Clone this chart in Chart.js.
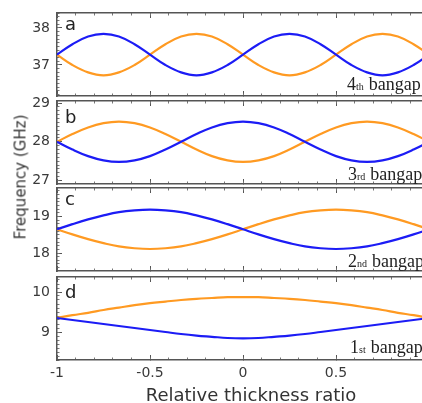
<!DOCTYPE html>
<html>
<head>
<meta charset="utf-8">
<script src="https://cdn.jsdelivr.net/npm/chart.js@4.4.0/dist/chart.umd.min.js"></script>
<style>
  html, body { margin: 0; padding: 0; background: #fff; width: 422px; height: 403px; overflow: hidden; }
  canvas { position: absolute; left: 0; }
  .tag { position: absolute; font: 18px 'DejaVu Sans', sans-serif; color: #222; line-height: 1; }
  .gap { position: absolute; font: 18px 'Liberation Serif', serif; color: #222; line-height: 1; white-space: nowrap; }
  .gap span { font-size: 10px; margin-right: 5px; }
  .title { position: absolute; font-family: 'DejaVu Sans', sans-serif; color: #333; line-height: 1; white-space: nowrap; }
</style>
</head>
<body>
<canvas id="pa" width="434" height="95" style="top:7px"></canvas>
<canvas id="pb" width="434" height="95" style="top:95px"></canvas>
<canvas id="pc" width="434" height="95" style="top:182px"></canvas>
<canvas id="pd" width="434" height="114" style="top:271px"></canvas>

<div class="tag" style="left:65px;top:15px">a</div>
<div class="tag" style="left:65px;top:108px">b</div>
<div class="tag" style="left:65px;top:190px">c</div>
<div class="tag" style="left:65px;top:283px">d</div>

<div class="gap" style="left:347px;top:75px">4<span>th</span>bangap</div>
<div class="gap" style="left:348px;top:165px">3<span>rd</span>bangap</div>
<div class="gap" style="left:348px;top:252px">2<span>nd</span>bangap</div>
<div class="gap" style="left:350px;top:338px">1<span>st</span>bangap</div>

<div class="title" style="left:21px;top:177px;font-size:15px;transform:translate(-50%,-50%) rotate(-90deg)">Frequency (GHz)</div>
<div class="title" style="left:251px;top:395px;font-size:18px;transform:translate(-50%,-50%)">Relative thickness ratio</div>

<script>
// relative thickness ratio (x) shared by all four panels
const thickness = [-1, -0.917, -0.833, -0.75, -0.667, -0.583, -0.5, -0.417, -0.333, -0.25, -0.167, -0.083,
  0, 0.083, 0.167, 0.25, 0.333, 0.417, 0.5, 0.583, 0.667, 0.75, 0.833, 0.917, 1];

// band edges in GHz
const gap4Blue = [37.28, 37.56, 37.77, 37.84, 37.77, 37.56, 37.28, 37.00, 36.80, 36.72, 36.80, 37.00,
  37.28, 37.56, 37.77, 37.84, 37.77, 37.56, 37.28, 37.00, 36.80, 36.72, 36.80, 37.00, 37.28];
const gap4Orange = [37.28, 37.00, 36.80, 36.72, 36.80, 37.00, 37.28, 37.56, 37.77, 37.84, 37.77, 37.56,
  37.28, 37.00, 36.80, 36.72, 36.80, 37.00, 37.28, 37.56, 37.77, 37.84, 37.77, 37.56, 37.28];
const gap3Blue = [28.00, 27.80, 27.63, 27.52, 27.48, 27.52, 27.63, 27.80, 28.00, 28.20, 28.37, 28.48,
  28.52, 28.48, 28.37, 28.20, 28.00, 27.80, 27.63, 27.52, 27.48, 27.52, 27.63, 27.80, 28.00];
const gap3Orange = [28.00, 28.20, 28.37, 28.48, 28.52, 28.48, 28.37, 28.20, 28.00, 27.80, 27.63, 27.52,
  27.48, 27.52, 27.63, 27.80, 28.00, 28.20, 28.37, 28.48, 28.52, 28.48, 28.37, 28.20, 28.00];
const gap2Blue = [18.65, 18.79, 18.92, 19.03, 19.12, 19.17, 19.19, 19.17, 19.12, 19.03, 18.92, 18.79,
  18.65, 18.51, 18.38, 18.27, 18.18, 18.13, 18.11, 18.13, 18.18, 18.27, 18.38, 18.51, 18.65];
const gap2Orange = [18.65, 18.51, 18.38, 18.27, 18.18, 18.13, 18.11, 18.13, 18.18, 18.27, 18.38, 18.51,
  18.65, 18.79, 18.92, 19.03, 19.12, 19.17, 19.19, 19.17, 19.12, 19.03, 18.92, 18.79, 18.65];
const gap1Blue = [9.35, 9.30, 9.25, 9.20, 9.15, 9.10, 9.05, 9.00, 8.95, 8.91, 8.88, 8.85,
  8.84, 8.85, 8.88, 8.91, 8.95, 9.00, 9.05, 9.10, 9.15, 9.20, 9.25, 9.30, 9.35];
const gap1Orange = [9.35, 9.42, 9.48, 9.55, 9.61, 9.67, 9.72, 9.76, 9.80, 9.83, 9.85, 9.87,
  9.87, 9.87, 9.85, 9.83, 9.80, 9.76, 9.72, 9.67, 9.61, 9.55, 9.48, 9.42, 9.35];

// y axis ranges per panel (top to bottom)
const yMins = [36.162, 26.910, 17.507, 8.3];
const yMaxs = [38.405, 29.052, 19.781, 10.375];

const frame = '#555';
const textColor = '#3a3a3a';
Chart.defaults.font.family = "'DejaVu Sans', sans-serif";

function fix(size) {
  return s => {
    if (s.isHorizontal()) s.height = size; else s.width = size;
    s.paddingTop = s.paddingBottom = s.paddingLeft = s.paddingRight = 0;
  };
}

function tickAxis(pos, min, max, step, len, major, extra) {
  return Object.assign({
    type: 'linear', position: pos, min: min, max: max, weight: major ? 1 : 0,
    border: { display: major, color: frame, width: 1.5 },
    grid: { drawOnChartArea: false, tickLength: len, tickColor: major ? frame : '#777', tickWidth: 1 },
    ticks: { display: false, stepSize: step, includeBounds: false, autoSkip: false },
    afterFit: fix(0)
  }, extra || {});
}

function makePanel(id, blue, orange, k, showX) {
  const pts = vals => thickness.map((x, i) => ({ x: x, y: vals[i] }));
  const x = tickAxis('bottom', -1, 1, 0.5, -5, true);
  if (showX) {
    x.ticks = { display: true, stepSize: 0.5, includeBounds: false, autoSkip: false, padding: 10,
      color: textColor, font: { size: 14 },
      // the right end of the axis is cut off by the frame, so its label is not shown
      callback: v => (v < 1 ? String(v) : '') };
    x.afterFit = fix(25);
  }
  const y = tickAxis('left', yMins[k], yMaxs[k], 1, -5, true);
  y.ticks = { display: true, stepSize: 1, includeBounds: false, padding: 12, color: textColor, font: { size: 14 } };
  y.afterFit = fix(57);

  new Chart(document.getElementById(id), {
    type: 'line',
    data: {
      datasets: [
        { data: pts(blue), borderColor: '#1c1cf5', borderWidth: 2.2, pointRadius: 0, tension: 0.4 },
        { data: pts(orange), borderColor: '#ff9a22', borderWidth: 2.2, pointRadius: 0, tension: 0.4 }
      ]
    },
    options: {
      responsive: false,
      animation: false,
      devicePixelRatio: 1,
      layout: { padding: { top: 6, bottom: showX ? 0 : 6, left: 0, right: 5 } },
      plugins: { legend: { display: false }, tooltip: { enabled: false } },
      scales: {
        x: x,
        xMinor: tickAxis('bottom', -1, 1, 0.1, -2.5, false),
        xTop: tickAxis('top', -1, 1, 0.5, -5, true),
        xTopMinor: tickAxis('top', -1, 1, 0.1, -2.5, false),
        y: y,
        yMinor: tickAxis('left', yMins[k], yMaxs[k], 0.1, -2.5, false)
      }
    }
  });
}

makePanel('pa', gap4Blue, gap4Orange, 0, false);
makePanel('pb', gap3Blue, gap3Orange, 1, false);
makePanel('pc', gap2Blue, gap2Orange, 2, false);
makePanel('pd', gap1Blue, gap1Orange, 3, true);
</script>
</body>
</html>
